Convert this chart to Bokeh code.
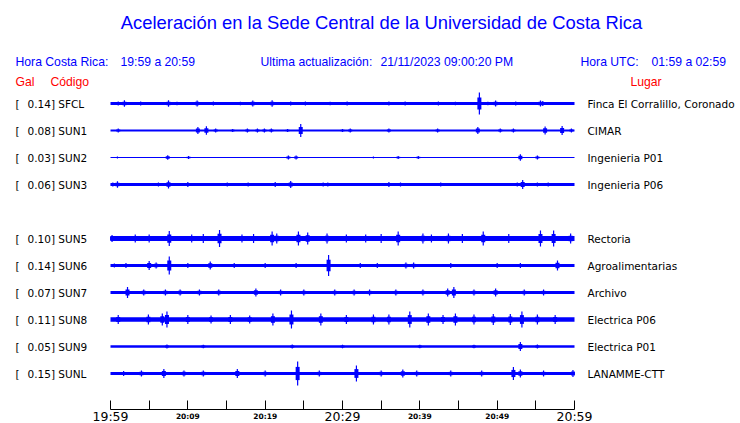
from bokeh.plotting import figure
from bokeh.models import Range1d, LinearAxis, FixedTicker, ColumnDataSource
from bokeh.core.properties import value
from bokeh.embed import file_html
from bokeh.resources import INLINE

# ---------------- data ----------------
title = "Aceleración en la Sede Central de la Universidad de Costa Rica"
hora_cr_lbl, hora_cr = "Hora Costa Rica:", "19:59 a 20:59"
ultima_lbl, ultima = "Ultima actualización:", "21/11/2023 09:00:20 PM"
hora_utc_lbl, hora_utc = "Hora UTC:", "01:59 a 02:59"

codes = ["SFCL", "SUN1", "SUN2", "SUN3", "SUN5", "SUN6", "SUN7", "SUN8", "SUN9", "SUNL"]
gal = [0.14, 0.08, 0.03, 0.06, 0.10, 0.14, 0.07, 0.11, 0.05, 0.15]
places = ["Finca El Corralillo, Coronado", "CIMAR", "Ingenieria P01", "Ingenieria P06",
          "Rectoria", "Agroalimentarias", "Archivo", "Electrica P06", "Electrica P01",
          "LANAMME-CTT"]

tick_minutes = list(range(0, 61, 5))
tick_labels = {0: "19:59", 10: "20:09", 20: "20:19", 30: "20:29",
               40: "20:39", 50: "20:49", 60: "20:59"}
big_ticks = [0, 30, 60]

# noise-floor half amplitude per station (display units, 27 units = one trace row)
floor = [1.5, 1.1, 0.5, 1.5, 2.6, 1.6, 1.6, 2.3, 1.3, 1.5]

# bursts per station: (minutes after 19:59, half amplitude in display units)
bursts_SFCL = [(1.0, 2.0), (1.4, 1.5), (1.8, 3.3), (3.2, 1.5), (3.9, 2.0), (5.6, 1.2),
               (7.5, 3.3), (8.6, 1.8), (11.2, 3.0), (13.3, 2.0), (16.8, 1.8), (18.4, 3.0),
               (20.9, 3.3), (23.3, 2.0), (25.2, 2.0), (28.4, 1.8), (30.6, 2.0), (36.0, 2.0),
               (38.1, 2.0), (42.4, 2.0), (44.6, 1.8), (47.7, 11.0), (48.8, 1.8), (49.8, 3.0),
               (52.4, 2.0), (55.6, 3.0), (55.9, 2.5)]
bursts_SUN1 = [(1.0, 2.0), (11.3, 3.5), (12.4, 4.3), (13.6, 2.0), (15.8, 1.5), (17.7, 2.0),
               (19.0, 2.0), (19.9, 2.0), (20.8, 2.0), (22.9, 1.5), (24.6, 6.5), (30.0, 1.5),
               (31.0, 2.0), (36.0, 2.0), (42.3, 2.0), (47.5, 3.5), (50.4, 2.0), (52.1, 2.0),
               (56.2, 4.0), (58.4, 4.5), (59.6, 2.0)]
bursts_SUN2 = [(0.9, 1.0), (7.4, 2.3), (10.1, 1.5), (23.0, 2.0), (24.0, 2.0), (34.0, 1.0),
               (37.2, 1.5), (39.8, 1.5), (53.0, 3.3), (55.2, 2.0)]
bursts_SUN3 = [(0.3, 2.0), (0.9, 3.3), (6.2, 2.0), (7.5, 4.0), (10.0, 2.5), (15.1, 2.0),
               (17.8, 2.0), (21.3, 2.5), (23.3, 3.5), (27.5, 2.0), (28.1, 2.0), (36.0, 2.5),
               (37.5, 2.0), (42.7, 2.0), (52.6, 2.0), (53.3, 4.5), (55.2, 2.0), (56.6, 2.0)]
bursts_SUN5 = [(0.2, 3.5), (3.2, 4.0), (5.0, 4.0), (7.6, 7.5), (10.5, 4.0), (12.0, 4.5),
               (14.1, 8.5), (17.0, 4.0), (18.5, 4.5), (20.9, 7.0), (21.5, 5.0), (24.3, 7.0),
               (25.5, 6.0), (28.0, 5.0), (30.5, 4.0), (33.0, 4.0), (35.0, 4.5), (37.2, 7.0),
               (40.4, 5.0), (41.5, 4.0), (43.7, 5.0), (45.5, 4.5), (48.2, 7.0), (51.5, 4.5),
               (55.6, 8.0), (57.3, 8.0), (59.5, 5.0)]
bursts_SUN6 = [(0.5, 2.0), (2.0, 2.5), (5.0, 4.5), (5.9, 3.0), (7.6, 9.0), (10.0, 2.5),
               (12.9, 4.0), (16.0, 2.5), (20.0, 2.5), (24.0, 2.5), (28.2, 10.5), (32.3, 2.5),
               (34.5, 2.5), (38.2, 3.0), (39.2, 3.0), (44.0, 2.5), (50.0, 2.5), (53.0, 2.5),
               (57.8, 5.0)]
bursts_SUN7 = [(2.2, 5.5), (4.3, 3.0), (7.1, 3.0), (9.0, 3.0), (11.5, 3.0), (14.0, 3.0),
               (18.8, 4.0), (22.0, 3.0), (25.0, 3.0), (29.0, 3.0), (31.5, 3.0), (33.5, 3.0),
               (36.9, 3.0), (40.4, 3.0), (43.6, 4.0), (44.4, 5.5), (47.0, 3.0), (49.8, 4.0),
               (53.5, 3.0), (56.0, 3.0)]
bursts_SUN8 = [(1.0, 4.5), (4.9, 5.0), (6.7, 6.0), (7.3, 8.0), (10.0, 4.5), (13.0, 4.0),
               (15.5, 4.5), (18.0, 4.0), (21.0, 6.0), (23.4, 9.0), (27.2, 6.0), (30.5, 4.5),
               (34.0, 5.0), (36.0, 5.0), (38.7, 8.0), (41.1, 6.0), (43.0, 4.5), (44.6, 6.0),
               (47.0, 5.0), (49.5, 5.5), (51.7, 5.5), (53.2, 8.0), (55.2, 5.0), (57.5, 4.5)]
bursts_SUN9 = [(7.3, 2.0), (12.0, 1.8), (23.5, 2.0), (30.0, 1.8), (40.0, 1.8), (47.0, 1.8),
               (53.0, 4.5), (55.2, 2.0)]
bursts_SUNL = [(1.7, 2.5), (4.0, 3.0), (6.9, 4.5), (9.5, 3.0), (12.0, 3.0), (16.4, 4.5),
               (20.0, 3.0), (24.2, 12.0), (27.0, 3.0), (31.8, 8.0), (35.0, 3.0), (37.8, 4.0),
               (39.6, 3.0), (44.0, 3.0), (48.0, 3.0), (52.1, 6.5), (53.0, 4.0), (56.0, 3.0),
               (59.8, 3.5)]
bursts = [bursts_SFCL, bursts_SUN1, bursts_SUN2, bursts_SUN3, bursts_SUN5, bursts_SUN6,
          bursts_SUN7, bursts_SUN8, bursts_SUN9, bursts_SUNL]

# ---------------- layout ----------------
BLUE, RED = "#0000ff", "#ff0000"
W, H = 740, 423
X0, PXM = 110.0, 464.0 / 60.0     # page x of 19:59 and px per minute
Y0, ROW = 103.0, 27.0             # page y of first trace and row spacing
FB = float(H)                     # frame reaches the bottom of the canvas
AXIS_Y = 409.0                    # page y of the time-axis line


def mx(px):
    return (px - X0) / PXM


def ry(py):
    return (py - Y0) / ROW


def row_of(i):
    return i + (1 if i >= 4 else 0)   # slot of SUN4 is left empty


p = figure(width=W, height=H, output_backend="svg", toolbar_location=None,
           x_range=Range1d(mx(0), mx(W)), y_range=Range1d(ry(FB), ry(0)),
           x_axis_location=None, y_axis_location=None,
           min_border_left=0, min_border_right=0, min_border_top=0, min_border_bottom=0)
p.outline_line_color = None
p.grid.visible = False
p.background_fill_color = "white"
p.border_fill_color = "white"

# traces
rows = [row_of(i) for i in range(len(codes))]
p.segment(x0=[0] * len(rows), x1=[60] * len(rows), y0=rows, y1=rows,
          line_width=[2 * f for f in floor], line_color=BLUE, line_cap="butt")
bx, by0, by1, lx, ly0, ly1 = [], [], [], [], [], []
for i, bl in enumerate(bursts):
    r = rows[i]
    for m, a in bl:
        bx.append(m); by0.append(r - a / ROW); by1.append(r + a / ROW)
        lx.append(m); ly0.append(r - 0.55 * a / ROW); ly1.append(r + 0.55 * a / ROW)
p.segment(x0=lx, x1=lx, y0=ly0, y1=ly1, line_width=4, line_color=BLUE, line_cap="butt")
p.segment(x0=bx, x1=bx, y0=by0, y1=by1, line_width=1.2, line_color=BLUE, line_cap="butt")

# texts
SANS = value("Liberation Sans")
DEJ = value("DejaVu Sans")
p.text(x=[mx(381)], y=[ry(22)], text=[title], text_font=SANS, text_font_size="18.4px",
       text_color=BLUE, text_align="center", text_baseline="middle")
hx = [mx(15), mx(120), mx(260), mx(380), mx(580), mx(651)]
ht = [hora_cr_lbl, hora_cr, ultima_lbl, ultima, hora_utc_lbl, hora_utc]
p.text(x=hx, y=[ry(61)] * len(hx), text=ht, text_font=SANS, text_font_size="12.2px",
       text_color=BLUE, text_align="left", text_baseline="middle")
p.text(x=[mx(15), mx(50), mx(630)], y=[ry(81)] * 3, text=["Gal", "Código", "Lugar"],
       text_font=SANS, text_font_size="12.2px", text_color=RED, text_align="left",
       text_baseline="middle")

src = ColumnDataSource(dict(
    y=rows,
    br=["["] * len(codes),
    lab=[f"{g:.2f}] {c}" for g, c in zip(gal, codes)],
    place=places,
))
p.text(x=mx(15), y="y", text="br", source=src, text_font=DEJ, text_font_size="10.5px",
       text_color="black", text_baseline="middle")
p.text(x=mx(27), y="y", text="lab", source=src, text_font=DEJ, text_font_size="10.5px",
       text_color="black", text_baseline="middle")
p.text(x=mx(587), y="y", text="place", source=src, text_font=DEJ, text_font_size="10.5px",
       text_color="black", text_baseline="middle")

# time axis: line and upward ticks (Bokeh axis pinned at the axis row);
# its own numeric labels are switched off, the hour labels are drawn below
ax = LinearAxis(ticker=FixedTicker(ticks=tick_minutes, minor_ticks=[]), bounds=(0, 60),
                fixed_location=ry(AXIS_Y),
                major_tick_in=9, major_tick_out=0, minor_tick_in=0, minor_tick_out=0,
                major_label_text_color=None, major_label_text_font_size="1px",
                major_label_standoff=0,
                axis_line_color="black", major_tick_line_color="black",
                axis_line_width=1, major_tick_line_width=1)
p.add_layout(ax, "below")

# hour labels under the ticks: large at the ends and middle, small elsewhere
big_t = [t for t in tick_labels if t in big_ticks]
small_t = [t for t in tick_labels if t not in big_ticks]
p.text(x=big_t, y=[ry(415.6)] * len(big_t), text=[tick_labels[t] for t in big_t],
       text_font=DEJ, text_font_size="12.5px", text_color="black",
       text_align="center", text_baseline="middle")
p.text(x=small_t, y=[ry(415.5)] * len(small_t), text=[tick_labels[t] for t in small_t],
       text_font=DEJ, text_font_size="7.5px", text_font_style="bold", text_color="black",
       text_align="center", text_baseline="middle")

open("out.html", "w").write(file_html(p, INLINE))
